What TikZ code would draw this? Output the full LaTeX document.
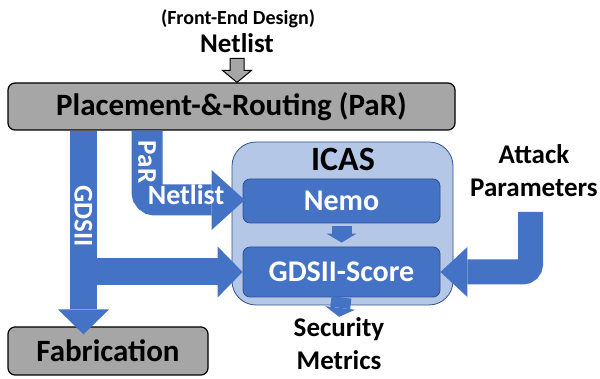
\documentclass[tikz,border=0pt]{standalone}
\usepackage{fontspec}
\setmainfont{Carlito}
\usepackage{tikz}
\usetikzlibrary{arrows.meta}
\usetikzlibrary{calc}

\definecolor{boxgray}{HTML}{A6A6A6}
\definecolor{flowblue}{HTML}{4472C4}
\definecolor{icasblue}{HTML}{B4C7E7}
\definecolor{edgeblue}{HTML}{2F528F}

\begin{document}
\begin{tikzpicture}[x=1pt, y=-1pt]
		\tikzset{stage/.style={shape = rectangle, draw = black, line width = 1.2pt, fill = boxgray, rounded corners = 7pt, inner sep = 0pt, font = \bfseries\fontsize{31}{31}\selectfont}}
		\tikzset{tool/.style={shape = rectangle, draw = edgeblue, line width = 0.8pt, fill = flowblue, text = white, rounded corners = 7pt, minimum width = 197pt, inner sep = 0pt, font = \bfseries\fontsize{30}{30}\selectfont}}
		\tikzset{caption/.style={inner sep = 0pt, align = center, font = \bfseries\fontsize{27}{33}\selectfont}}
		\tikzset{flow/.style={draw = flowblue, line width = 27pt, -{Triangle[line width = 0pt, length = 25pt, width = 51pt]}}}
		\tikzset{bend flow/.style={flow, rounded corners = 8pt}}
		\tikzset{step flow/.style={draw = flowblue, line width = 20pt, -{Triangle[line width = 0pt, length = 9pt, width = 30pt]}}}
		\tikzset{flow text/.style={text = white, inner sep = 0pt, rotate = -90, font = \bfseries\fontsize{27}{27}\selectfont}}
		\useasboundingbox (0, 0) rectangle (600, 379);
		%nodes
		\node[caption, anchor = base, font = \bfseries\fontsize{20}{20}\selectfont] (frontend) at (238, 25) {(Front-End Design)};
		\node[caption, anchor = base, font = \bfseries\fontsize{27}{27}\selectfont] (netin) at (237, 53) {Netlist};
		\node[stage, minimum width = 447pt, minimum height = 47pt] (par) at (231.5, 106.5) {Placement-\&-Routing (PaR)};
		\node[stage, minimum width = 200pt, minimum height = 48pt] (fab) at (108, 351) {Fabrication};
		\node[shape = rectangle, draw = edgeblue, line width = 0.8pt, fill = icasblue, rounded corners = 24pt, minimum width = 221pt, minimum height = 163pt] (icas) at (342.5, 223.5) {};
		\node[caption, anchor = base, font = \bfseries\fontsize{34}{34}\selectfont] (icaslabel) at (343, 171) {ICAS};
		\node[tool, minimum height = 44pt] (nemo) at (341.5, 201) {Nemo};
		\node[tool, minimum height = 50pt] (score) at (341.5, 272) {GDSII-Score};
		\node[caption, anchor = base] (sec) at (339, 370) {Security\\Metrics};
		\node[caption, anchor = base] (atk) at (534, 197) {Attack\\Parameters};
		%free ends
		\coordinate (gdstap) at (83.5, 0);
		\coordinate (partap) at (147, 0);
		\coordinate (atktap) at (530.5, 212);
		%edges
		\draw[line width = 1pt, fill = boxgray] (par.north -| netin) -- ++(-14.5, -12) -- ++(7.5, 0) -- ++(0, -12) -- ++(14, 0) -- ++(0, 12) -- ++(7.5, 0) -- cycle;
		\draw[flow] (par.south -| gdstap) -- ($(fab.north -| gdstap) + (0, 8)$);
		\draw[flow] (gdstap |- score.west) -- (score.west);
		\draw[bend flow, line width = 31pt, -{Triangle[line width = 0pt, length = 33pt, width = 60pt]}] (par.south -| partap) |- ($(nemo.west) + (2, -1)$);
		\draw[bend flow, line width = 25pt, -{Triangle[line width = 0pt, length = 27pt, width = 50pt]}] (atktap) |- (score.east);
		\draw[step flow, shorten < = 3pt, shorten > = 4pt] (nemo) -- (score);
		\draw[step flow, shorten > = 1pt] (score.south) -- (sec.north);
		%arrow labels
		\node[flow text] (gdslabel) at (83.5, 216) {GDSII};
		\node[flow text] (parlabel) at (147, 162) {PaR};
		\node[inner sep = 0pt, text = white, anchor = base, font = \bfseries\fontsize{28}{28}\selectfont] (netlabel) at (186, 205) {Netlist};
\end{tikzpicture}
\end{document}
